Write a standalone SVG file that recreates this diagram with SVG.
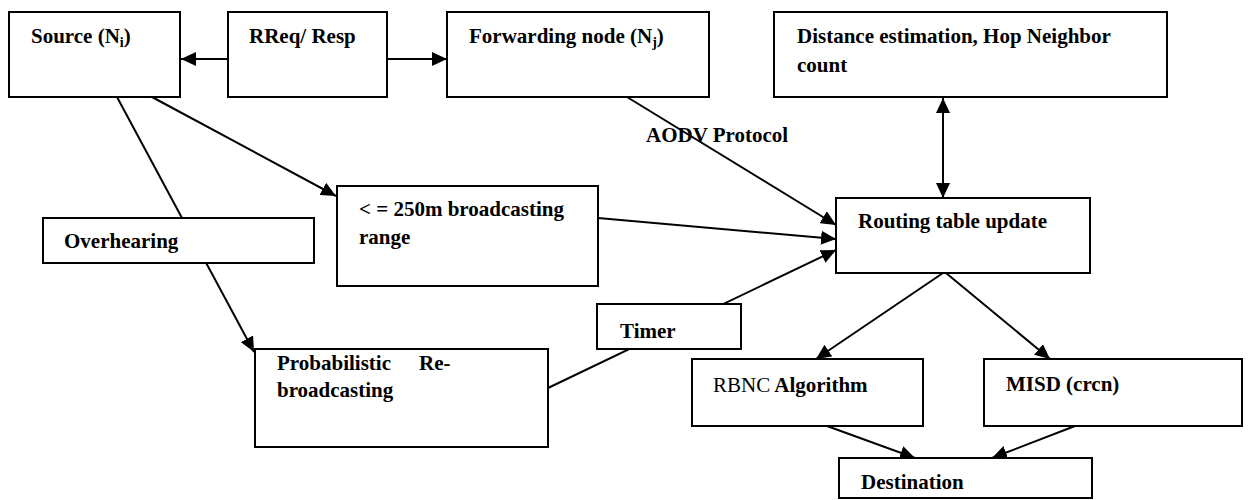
<svg xmlns="http://www.w3.org/2000/svg" width="1249" height="500" viewBox="0 0 1249 500">
<style>
.box{fill:#fff;stroke:#000;stroke-width:2}
.t{font-family:"Liberation Serif","Times New Roman",serif;font-size:21px;font-weight:bold;fill:#000}
.r{font-weight:normal}
.c{fill:none;stroke:#000;stroke-width:2}
</style>
<defs>
<marker id="ah" markerUnits="userSpaceOnUse" markerWidth="16" markerHeight="14" refX="15" refY="7" orient="auto-start-reverse">
<path d="M0,0 L15,7 L0,14 z" fill="#000"/>
</marker>
</defs>
<rect width="1249" height="500" fill="#fff"/>
<g id="connectors">
<line class="c" x1="228" y1="59" x2="181" y2="59" marker-end="url(#ah)"/>
<line class="c" x1="387" y1="59" x2="447" y2="59" marker-end="url(#ah)"/>
<line class="c" x1="152" y1="97" x2="336" y2="196" marker-end="url(#ah)"/>
<line class="c" x1="117" y1="97" x2="254" y2="352" marker-end="url(#ah)"/>
<line class="c" x1="627" y1="97" x2="836" y2="225" marker-end="url(#ah)"/>
<line class="c" x1="598" y1="218" x2="836" y2="239" marker-end="url(#ah)"/>
<line class="c" x1="548" y1="388" x2="836" y2="250" marker-end="url(#ah)"/>
<line class="c" x1="943" y1="98" x2="943" y2="198" marker-start="url(#ah)" marker-end="url(#ah)"/>
<line class="c" x1="943" y1="273" x2="816" y2="359" marker-end="url(#ah)"/>
<line class="c" x1="946" y1="273" x2="1050" y2="359" marker-end="url(#ah)"/>
<line class="c" x1="827" y1="426" x2="915" y2="458" marker-end="url(#ah)"/>
<line class="c" x1="1075" y1="426" x2="992" y2="458" marker-end="url(#ah)"/>
<text class="t" x="646" y="142">AODV Protocol</text>
</g>
<g id="source"><rect class="box" x="9" y="12" width="171" height="85"/><text class="t" x="31" y="43">Source (N<tspan font-size="14" dy="4">i</tspan><tspan dy="-4">)</tspan></text></g>
<g id="rreq"><rect class="box" x="228" y="12" width="159" height="85"/><text class="t" x="249" y="43">RReq/ Resp</text></g>
<g id="forwarding"><rect class="box" x="447" y="12" width="262" height="85"/><text class="t" x="469" y="43">Forwarding node (N<tspan font-size="14" dy="4">j</tspan><tspan dy="-4">)</tspan></text></g>
<g id="distance"><rect class="box" x="774" y="12" width="393" height="85"/><text class="t" x="797" y="43">Distance estimation, Hop Neighbor</text><text class="t" x="797" y="72">count</text></g>
<g id="overhearing"><rect class="box" x="43" y="218" width="271" height="45"/><text class="t" x="64" y="248">Overhearing</text></g>
<g id="broadcasting"><rect class="box" x="337" y="186" width="261" height="100"/><text class="t" x="359" y="216">&lt; = 250m broadcasting</text><text class="t" x="359" y="244">range</text></g>
<g id="routing"><rect class="box" x="836" y="198" width="254" height="75"/><text class="t" x="858" y="228">Routing table update</text></g>
<g id="timer"><rect class="box" x="597" y="304" width="144" height="45"/><text class="t" x="620" y="338">Timer</text></g>
<g id="probabilistic"><rect class="box" x="255" y="349" width="293" height="98"/><text class="t" x="277" y="370">Probabilistic</text><text class="t" x="419" y="370">Re-</text><text class="t" x="277" y="397">broadcasting</text></g>
<g id="rbnc"><rect class="box" x="692" y="359" width="231" height="67"/><text class="t" x="713" y="392"><tspan class="r">RBNC</tspan> Algorithm</text></g>
<g id="misd"><rect class="box" x="984" y="359" width="258" height="67"/><text class="t" x="1006" y="391">MISD (crcn)</text></g>
<g id="destination"><rect class="box" x="839" y="458" width="253" height="40"/><text class="t" x="861" y="489">Destination</text></g>
</svg>
